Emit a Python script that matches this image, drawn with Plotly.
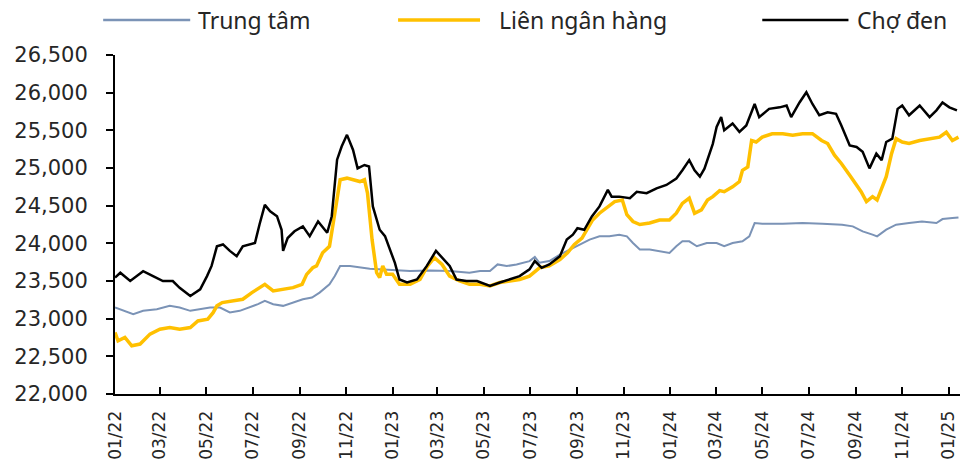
import plotly.graph_objects as go

# ---- data (VND per USD) ----
central_dates = [
    "2022-01-01", "2022-01-12", "2022-01-25", "2022-02-07", "2022-02-25", "2022-03-14", "2022-03-27",
    "2022-04-10", "2022-04-23", "2022-05-06", "2022-05-19", "2022-06-01", "2022-06-14", "2022-06-27",
    "2022-07-08", "2022-07-17", "2022-07-28", "2022-08-10", "2022-08-23", "2022-09-05", "2022-09-17",
    "2022-09-27", "2022-10-10", "2022-10-17", "2022-10-24", "2022-11-06", "2022-12-02", "2022-12-28",
    "2023-01-24", "2023-02-19", "2023-03-17", "2023-04-12", "2023-04-26", "2023-05-09", "2023-05-19",
    "2023-05-31", "2023-06-13", "2023-06-30", "2023-07-07", "2023-07-13", "2023-07-26", "2023-08-09",
    "2023-08-22", "2023-09-04", "2023-09-17", "2023-09-30", "2023-10-13", "2023-10-26", "2023-11-05",
    "2023-11-13", "2023-11-22", "2023-12-05", "2023-12-18", "2023-12-31", "2024-01-09", "2024-01-17",
    "2024-01-26", "2024-02-05", "2024-02-18", "2024-03-02", "2024-03-12", "2024-03-23", "2024-04-05",
    "2024-04-14", "2024-04-21", "2024-05-01", "2024-05-28", "2024-06-23", "2024-07-19", "2024-08-14",
    "2024-08-28", "2024-09-10", "2024-09-23", "2024-09-29", "2024-10-11", "2024-10-24", "2024-11-10",
    "2024-11-27", "2024-12-16", "2024-12-24", "2025-01-06", "2025-01-14",
]
central_rate = [
    23148, 23104, 23060, 23104, 23126, 23170, 23148,
    23104, 23126, 23148, 23148, 23082, 23104, 23148,
    23192, 23236, 23192, 23170, 23214, 23258, 23280,
    23346, 23456, 23566, 23698, 23698, 23663, 23645,
    23632, 23641, 23632, 23610, 23632, 23632, 23720,
    23698, 23720, 23764, 23820, 23742, 23764, 23850,
    23917, 23983, 24050, 24093, 24093, 24115, 24093,
    24005, 23917, 23917, 23895, 23873, 23961, 24027,
    24027, 23961, 24005, 24005, 23961, 24005, 24027,
    24093, 24269, 24260, 24260, 24269, 24260, 24247,
    24225, 24159, 24115, 24093, 24181, 24247, 24269,
    24291, 24269, 24322, 24335, 24344,
]

interbank_dates = [
    "2022-01-01", "2022-01-05", "2022-01-14", "2022-01-23", "2022-02-03", "2022-02-16", "2022-03-01",
    "2022-03-14", "2022-03-27", "2022-04-10", "2022-04-20", "2022-05-03", "2022-05-10", "2022-05-15",
    "2022-05-22", "2022-06-05", "2022-06-18", "2022-06-30", "2022-07-07", "2022-07-17", "2022-07-28",
    "2022-08-10", "2022-08-23", "2022-09-04", "2022-09-10", "2022-09-18", "2022-09-23", "2022-10-01",
    "2022-10-10", "2022-10-17", "2022-10-24", "2022-11-02", "2022-11-10", "2022-11-19", "2022-11-25",
    "2022-11-29", "2022-12-05", "2022-12-11", "2022-12-15", "2022-12-19", "2022-12-24", "2023-01-01",
    "2023-01-10", "2023-01-24", "2023-02-06", "2023-02-16", "2023-02-25", "2023-03-07", "2023-03-17",
    "2023-03-30", "2023-04-12", "2023-04-26", "2023-05-09", "2023-05-22", "2023-06-04", "2023-06-17",
    "2023-06-30", "2023-07-13", "2023-07-26", "2023-08-09", "2023-08-19", "2023-08-28", "2023-09-07",
    "2023-09-14", "2023-09-21", "2023-09-30", "2023-10-11", "2023-10-20", "2023-10-30", "2023-11-05",
    "2023-11-13", "2023-11-22", "2023-12-05", "2023-12-18", "2023-12-31", "2024-01-09", "2024-01-17",
    "2024-01-26", "2024-02-02", "2024-02-11", "2024-02-19", "2024-02-26", "2024-03-06", "2024-03-12",
    "2024-03-23", "2024-04-01", "2024-04-05", "2024-04-12", "2024-04-17", "2024-04-23", "2024-05-01",
    "2024-05-14", "2024-05-28", "2024-06-10", "2024-06-23", "2024-07-06", "2024-07-18", "2024-07-26",
    "2024-08-04", "2024-08-13", "2024-08-24", "2024-09-02", "2024-09-08", "2024-09-15", "2024-09-23",
    "2024-09-29", "2024-10-05", "2024-10-11", "2024-10-18", "2024-10-24", "2024-11-01", "2024-11-10",
    "2024-11-24", "2024-12-07", "2024-12-20", "2024-12-29", "2025-01-06", "2025-01-14",
]
interbank_rate = [
    22817, 22707, 22750, 22640, 22663, 22795, 22860,
    22883, 22860, 22883, 22970, 22993, 23080, 23170,
    23214, 23235, 23258, 23346, 23390, 23456, 23368,
    23390, 23412, 23456, 23588, 23676, 23700, 23875,
    23960, 24400, 24845, 24865, 24845, 24820, 24845,
    24665, 24050, 23610, 23545, 23700, 23590, 23590,
    23456, 23456, 23520, 23700, 23810, 23720, 23565,
    23500, 23456, 23456, 23434, 23480, 23500, 23520,
    23565, 23675, 23700, 23785, 23875, 23985, 24070,
    24200, 24310, 24400, 24490, 24555, 24575, 24380,
    24290, 24250, 24270, 24310, 24310, 24400, 24530,
    24600, 24400, 24445, 24575, 24620, 24700, 24685,
    24750, 24820, 24970, 25015, 25365, 25345, 25410,
    25455, 25455, 25435, 25455, 25455, 25365, 25325,
    25170, 25060, 24905, 24775, 24685, 24555, 24620,
    24575, 24730, 24885, 25190, 25390, 25345, 25325,
    25365, 25390, 25410, 25475, 25365, 25410,
]

black_dates = [
    "2022-01-01", "2022-01-08", "2022-01-21", "2022-02-07", "2022-02-20", "2022-03-05", "2022-03-18",
    "2022-03-27", "2022-04-10", "2022-04-23", "2022-05-02", "2022-05-08", "2022-05-15", "2022-05-23",
    "2022-06-01", "2022-06-10", "2022-06-18", "2022-07-04", "2022-07-10", "2022-07-17", "2022-07-24",
    "2022-08-02", "2022-08-08", "2022-08-10", "2022-08-16", "2022-08-25", "2022-09-05", "2022-09-14",
    "2022-09-25", "2022-10-07", "2022-10-13", "2022-10-20", "2022-10-26", "2022-11-02", "2022-11-10",
    "2022-11-16", "2022-11-25", "2022-12-01", "2022-12-06", "2022-12-15", "2022-12-22", "2022-12-28",
    "2023-01-04", "2023-01-10", "2023-01-20", "2023-02-02", "2023-02-15", "2023-02-27", "2023-03-07",
    "2023-03-17", "2023-03-26", "2023-04-08", "2023-04-22", "2023-05-09", "2023-05-22", "2023-06-04",
    "2023-06-17", "2023-06-30", "2023-07-07", "2023-07-16", "2023-07-26", "2023-08-09", "2023-08-18",
    "2023-08-26", "2023-09-01", "2023-09-10", "2023-09-20", "2023-09-30", "2023-10-11", "2023-10-16",
    "2023-10-26", "2023-11-09", "2023-11-18", "2023-12-01", "2023-12-14", "2023-12-27", "2024-01-09",
    "2024-01-17", "2024-01-26", "2024-02-02", "2024-02-09", "2024-02-15", "2024-02-20", "2024-02-26",
    "2024-03-02", "2024-03-08", "2024-03-12", "2024-03-23", "2024-04-01", "2024-04-10", "2024-04-21",
    "2024-04-27", "2024-05-10", "2024-05-24", "2024-06-02", "2024-06-08", "2024-06-19", "2024-06-28",
    "2024-07-06", "2024-07-15", "2024-07-26", "2024-08-06", "2024-08-13", "2024-08-24", "2024-09-02",
    "2024-09-10", "2024-09-19", "2024-09-28", "2024-10-05", "2024-10-11", "2024-10-19", "2024-10-26",
    "2024-11-01", "2024-11-10", "2024-11-24", "2024-12-07", "2024-12-16", "2024-12-24", "2025-01-02",
    "2025-01-12",
]
black_rate = [
    23545, 23610, 23500, 23630, 23565, 23500, 23500,
    23410, 23300, 23390, 23565, 23700, 23960, 23985,
    23900, 23830, 23960, 24005, 24250, 24510, 24425,
    24360, 24180, 23900, 24070, 24160, 24225, 24095,
    24290, 24140, 24360, 25110, 25285, 25440, 25240,
    24995, 25040, 25020, 24490, 24180, 24095, 23920,
    23740, 23520, 23480, 23520, 23700, 23900, 23810,
    23700, 23520, 23500, 23500, 23435, 23480, 23520,
    23565, 23655, 23765, 23675, 23720, 23830, 24050,
    24115, 24200, 24180, 24357, 24490, 24710, 24620,
    24620, 24600, 24685, 24665, 24730, 24775, 24860,
    24970, 25105, 24970, 24885, 24990, 25150, 25320,
    25545, 25675, 25500, 25590, 25480, 25565, 25850,
    25675, 25785, 25805, 25830, 25675, 25870, 26005,
    25850, 25700, 25740, 25720, 25565, 25300, 25280,
    25215, 24995, 25190, 25105, 25345, 25390, 25785,
    25830, 25700, 25830, 25675, 25765, 25870, 25805,
    25765,
]

series_names = ["Trung tâm", "Liên ngân hàng", "Chợ đen"]
series_colors = ["#7B93B6", "#FFC000", "#000000"]
y_ticks = [22000, 22500, 23000, 23500, 24000, 24500, 25000, 25500, 26000, 26500]

fig = go.Figure()
fig.add_trace(go.Scatter(x=central_dates, y=central_rate, mode="lines", name=series_names[0],
                         line=dict(color=series_colors[0], width=2)))
fig.add_trace(go.Scatter(x=interbank_dates, y=interbank_rate, mode="lines", name=series_names[1],
                         line=dict(color=series_colors[1], width=3.5)))
fig.add_trace(go.Scatter(x=black_dates, y=black_rate, mode="lines", name=series_names[2],
                         line=dict(color=series_colors[2], width=2.5)))

fig.update_layout(
    width=963, height=469,
    margin=dict(l=115, r=3, t=55, b=75, autoexpand=False),
    paper_bgcolor="white", plot_bgcolor="white",
    showlegend=False,
    xaxis=dict(
        type="date", range=["2022-01-01", "2025-01-16"], automargin=False,
        tick0="2022-01-01", dtick="M2", tickformat="%m/%y", tickangle=-90,
        ticks="inside", ticklen=7, tickwidth=2, tickcolor="black",
        showline=True, linecolor="black", linewidth=2, showgrid=False, zeroline=False,
        tickfont=dict(family="DejaVu Sans", size=17, color="#262626"),
        ticklabelstandoff=8,
    ),
    yaxis=dict(
        range=[22000, 26500], tickvals=y_ticks, tickformat=",d", automargin=False,
        ticks="outside", ticklen=7, tickwidth=2, tickcolor="black",
        showline=True, linecolor="black", linewidth=2, showgrid=False, zeroline=False,
        tickfont=dict(family="DejaVu Sans", size=21, color="#262626"), ticklabelstandoff=14,
    ),
    yaxis2=dict(
        overlaying="y", side="left", range=[22000, 26500], tickvals=y_ticks, automargin=False,
        ticks="inside", ticklen=7, tickwidth=2, tickcolor="black",
        showticklabels=False, showline=False, showgrid=False, zeroline=False,
    ),
)

# custom legend with long line samples, as in the original
legend_x = [(-0.014, 0.089, 0.096), (0.335, 0.432, 0.452), (0.766, 0.868, 0.876)]
for (x0, x1, xt), name, color, w in zip(legend_x, series_names, series_colors, [2.5, 3.5, 2.5]):
    fig.add_shape(type="line", xref="paper", yref="paper", x0=x0, x1=x1, y0=1.103, y1=1.103,
                  line=dict(color=color, width=w))
    fig.add_annotation(xref="paper", yref="paper", x=xt, y=1.103, text=name, showarrow=False,
                       xanchor="left", yanchor="middle",
                       font=dict(family="Noto Sans", size=23, color="#262626"))

# the page's default body margin would shift the whole chart by 8px
fig.write_html("out.html", config={"displayModeBar": False},
               post_script="document.body.style.margin='0';")
